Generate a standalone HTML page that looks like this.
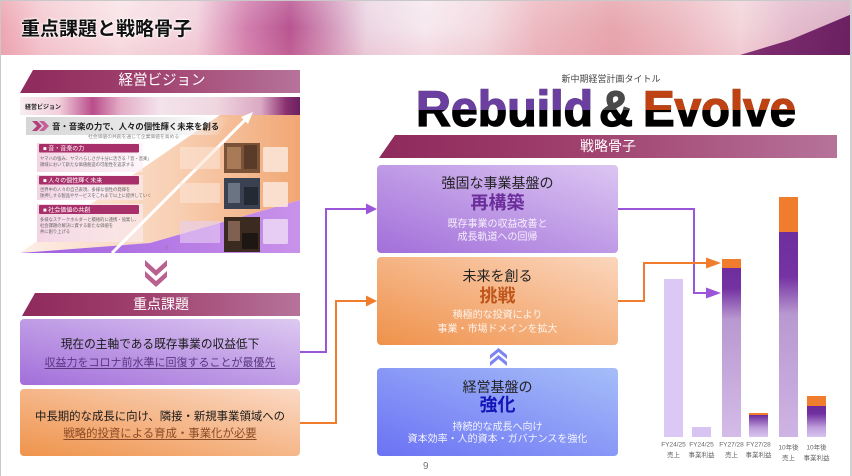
<!DOCTYPE html>
<html><head><meta charset="utf-8">
<style>
*{margin:0;padding:0;box-sizing:border-box;}
html,body{width:852px;height:476px;overflow:hidden;background:#fff;}
body{position:relative;font-family:"Liberation Sans","Noto Sans CJK JP",sans-serif;}
.abs{position:absolute;}
.header{left:0;top:0;width:852px;height:55px;overflow:hidden;
background:
 linear-gradient(180deg,rgba(255,255,255,0.15) 0%,rgba(255,255,255,0) 50%,rgba(230,140,160,0.18) 100%),
 linear-gradient(90deg,#eda6b1 0%,#f5ccd3 5%,#f9e4e8 14%,#f3d2dd 23%,#d27fae 29%,#b85592 34%,#cf8db5 38%,#ecd6e3 43%,#f6e9ef 50%,#f3dae1 57%,#edbac1 63%,#e7a6ae 72%,#edbcc3 80%,#f3d6dc 87%,#e4bccd 93%,#d9b0c4 100%);}
.hdark{left:700px;top:0;width:152px;height:55px;
 clip-path:polygon(40px 55px,90px 40px,152px 14px,152px 55px);
 background:linear-gradient(100deg,#9a4a88 0%,#7a2a6c 50%,#6a2062 100%);}
.title{left:21px;top:20px;font-size:19px;line-height:19px;font-weight:bold;color:#111;white-space:nowrap;
 text-shadow:0 0 3px #fff,0 0 2px #fff,0 0 1px #fff;}
.banner{color:#fff;text-align:center;background:linear-gradient(90deg,#8e2a5c 0%,#a0416e 45%,#b6739a 100%);}
.box{border-radius:4px;}
.t{position:absolute;left:0;width:100%;text-align:center;white-space:nowrap;}
.frame-t{left:0;top:0;width:852px;height:1px;background:#c9c9c9;}
.frame-l{left:0;top:0;width:1px;height:476px;background:#c9c9c9;}
.frame-r{left:850px;top:0;width:2px;height:476px;background:#d0d0d0;}
</style></head><body>

<div class="abs header"></div>
<div class="abs hdark"></div>
<div class="abs title">重点課題と戦略骨子</div>

<!-- 経営ビジョン banner -->
<div class="abs banner" style="left:20px;top:70px;width:280px;height:23px;clip-path:polygon(13px 0,100% 0,100% 100%,0 100%);font-size:14.5px;line-height:23px;padding-left:4px;">経営ビジョン</div>

<!-- Vision image -->
<svg class="abs" style="left:20px;top:97px;" width="280" height="156" viewBox="0 0 280 156" font-family="Liberation Sans, Noto Sans CJK JP, sans-serif">
 <defs>
  <linearGradient id="hair" x1="0" y1="0" x2="1" y2="0">
   <stop offset="0" stop-color="#f8eef1"/><stop offset="0.14" stop-color="#f2cfdb"/>
   <stop offset="0.26" stop-color="#b94d8b"/><stop offset="0.36" stop-color="#e4adc6"/>
   <stop offset="0.5" stop-color="#f3e3eb"/><stop offset="0.7" stop-color="#efd6df"/>
   <stop offset="0.86" stop-color="#dba9c3"/><stop offset="0.95" stop-color="#8a3070"/>
   <stop offset="1" stop-color="#6a2060"/></linearGradient>
  <linearGradient id="org" x1="0" y1="0" x2="1" y2="0">
   <stop offset="0" stop-color="#fdeee6"/><stop offset="0.55" stop-color="#f8d0b4"/><stop offset="1" stop-color="#f1a774"/></linearGradient>
  <linearGradient id="pur" x1="0" y1="0" x2="1" y2="0">
   <stop offset="0" stop-color="#9f5ee0"/><stop offset="1" stop-color="#c992ea"/></linearGradient>
  <linearGradient id="grey" x1="0" y1="0" x2="1" y2="0">
   <stop offset="0" stop-color="#d6d6d6"/><stop offset="0.7" stop-color="#eeeeee"/><stop offset="1" stop-color="#f8f8f8" stop-opacity="0"/></linearGradient>
  <linearGradient id="bx" x1="0" y1="0" x2="1" y2="0">
   <stop offset="0" stop-color="#f4d4e4"/><stop offset="1" stop-color="#fbeef4" stop-opacity="0.6"/></linearGradient>
 </defs>
 <rect x="0" y="0" width="280" height="18" fill="url(#hair)"/>
 <text x="5" y="12" font-size="6" font-weight="bold" fill="#222">経営ビジョン</text>
 <polygon points="200,18 280,18 280,103 130,146 0,156" fill="url(#org)"/>
 <polygon points="0,156 130,146 280,103 280,156" fill="url(#pur)"/>
 <polygon points="6,20 210,20 198,38 6,38" fill="url(#grey)"/>
 <polygon points="12,24 17,24 22,29 17,34 12,34 17,29" fill="#b23e7c"/>
 <polygon points="19,24 24,24 29,29 24,34 19,34 24,29" fill="#c7609a"/>
 <text x="32" y="32.5" font-size="8.4" font-weight="bold" fill="#222">音・音楽の力で、人々の個性輝く未来を創る</text>
 <text x="68" y="41" font-size="4.8" fill="#888">社会価値の共創を通じて企業価値を高める</text>
 <!-- boxes -->
 <rect x="17" y="46" width="106" height="29" fill="url(#bx)"/>
 <rect x="19" y="47" width="100" height="8.5" rx="1" fill="#a8306a"/>
 <text x="23" y="53.5" font-size="6" fill="#fff">■ 音・音楽の力</text>
 <text x="20" y="63" font-size="4.3" fill="#666">ヤマハの強み、ヤマハらしさが十分に活きる「音・音楽」</text>
 <text x="20" y="69" font-size="4.3" fill="#666">領域において新たな価値創造の可能性を追求する</text>
 <rect x="17" y="78" width="106" height="25" fill="url(#bx)"/>
 <rect x="19" y="79" width="100" height="8.5" rx="1" fill="#a8306a"/>
 <text x="23" y="85.5" font-size="6" fill="#fff">■ 人々の個性輝く未来</text>
 <text x="20" y="94" font-size="4.3" fill="#666">世界中の人々の自己表現、多様な個性の発揮を</text>
 <text x="20" y="100" font-size="4.3" fill="#666">後押しする製品やサービスをこれまで以上に提供していく</text>
 <rect x="17" y="107" width="106" height="38" fill="url(#bx)"/>
 <rect x="19" y="108" width="100" height="9" rx="1" fill="#a8306a"/>
 <text x="23" y="115" font-size="6" fill="#fff">■ 社会価値の共創</text>
 <text x="20" y="124" font-size="4.3" fill="#666">多様なステークホルダーと積極的に連携・協業し、</text>
 <text x="20" y="130" font-size="4.3" fill="#666">社会課題の解決に資する新たな価値を</text>
 <text x="20" y="136" font-size="4.3" fill="#666">共に創り上げる</text>
 <!-- arrow -->
 <line x1="92" y1="156" x2="226" y2="22" stroke="#fff" stroke-width="3"/>
 <polygon points="233,15 221,20 228,27" fill="#fff"/>
 <!-- side text boxes -->
 <rect x="160" y="50" width="40" height="22" fill="#fbe4d6" opacity="0.6"/>
 <rect x="160" y="86" width="40" height="20" fill="#fbe4d6" opacity="0.6"/>
 <rect x="160" y="124" width="40" height="22" fill="#e8d0f4" opacity="0.6"/>
 <rect x="243" y="50" width="25" height="25" rx="1.5" fill="#fbe8dc" opacity="0.85"/>
 <rect x="243" y="85" width="25" height="25" rx="1.5" fill="#fbe8dc" opacity="0.85"/>
 <rect x="243" y="122" width="25" height="25" rx="1.5" fill="#ecd8f6" opacity="0.85"/>
 <!-- photos -->
 <rect x="204" y="46" width="36" height="30" fill="#7a5238"/>
 <rect x="207" y="50" width="14" height="22" fill="#a97a56"/><rect x="224" y="48" width="13" height="24" fill="#5a3a28"/>
 <rect x="204" y="81" width="36" height="31" fill="#3a4252"/>
 <rect x="208" y="86" width="12" height="20" fill="#6a7482"/><rect x="224" y="90" width="14" height="18" fill="#242a34"/>
 <rect x="204" y="120" width="36" height="35" fill="#3a2a20"/>
 <rect x="208" y="124" width="12" height="20" fill="#806050"/><rect x="222" y="136" width="16" height="16" fill="#1e1612"/>
 <text x="145" y="153" font-size="5" fill="#777">7</text>
</svg>

<!-- 重点課題 banner -->
<div class="abs banner" style="left:22px;top:293px;width:278px;height:23px;clip-path:polygon(13px 0,100% 0,100% 100%,0 100%);font-size:14px;line-height:23px;">重点課題</div>

<!-- left purple box -->
<div class="abs box" style="left:20px;top:319px;width:280px;height:66px;background:linear-gradient(to top right,#a26fda,#ddc9f1);">
 <div class="t" style="top:18px;font-size:11.7px;line-height:16px;color:#1a1a1a;">現在の主軸である既存事業の収益低下</div>
 <div class="t" style="top:36px;font-size:11px;line-height:16px;color:#5a3580;text-decoration:underline;text-underline-offset:2px;">収益力をコロナ前水準に回復することが最優先</div>
</div>
<!-- left orange box -->
<div class="abs box" style="left:20px;top:389px;width:280px;height:67px;background:linear-gradient(to top right,#ef934b,#fbdac6);">
 <div class="t" style="top:20px;font-size:11.4px;line-height:16px;color:#1a1a1a;">中長期的な成長に向け、隣接・新規事業領域への</div>
 <div class="t" style="top:37px;font-size:11.4px;line-height:16px;color:#8a4a26;text-decoration:underline;text-underline-offset:2px;">戦略的投資による育成・事業化が必要</div>
</div>

<!-- right top text -->
<div class="abs" style="left:551px;top:73px;width:120px;text-align:center;font-size:9px;line-height:12px;color:#444;white-space:nowrap;">新中期経営計画タイトル</div>

<!-- 戦略骨子 banner -->
<div class="abs banner" style="left:379px;top:135px;width:458px;height:23px;clip-path:polygon(16px 0,100% 0,100% 100%,0 100%);font-size:14px;line-height:23px;">戦略骨子</div>

<!-- strategy box 1 -->
<div class="abs box" style="left:377px;top:165px;width:241px;height:88px;background:linear-gradient(to top right,#a26fda,#dcc6f2);">
 <div class="t" style="top:10px;font-size:14px;line-height:16px;color:#222;">強固な事業基盤の</div>
 <div class="t" style="top:28px;font-size:18px;line-height:20px;font-weight:bold;color:#6a2d9a;">再構築</div>
 <div class="t" style="top:53px;font-size:10px;line-height:14px;color:#f6f0fb;">既存事業の収益改善と</div>
 <div class="t" style="top:66px;font-size:10px;line-height:14px;color:#f6f0fb;">成長軌道への回帰</div>
</div>
<!-- strategy box 2 -->
<div class="abs box" style="left:377px;top:257px;width:241px;height:88px;background:linear-gradient(to top right,#ef914a,#fbd6bd);">
 <div class="t" style="top:11px;font-size:14px;line-height:16px;color:#222;">未来を創る</div>
 <div class="t" style="top:29px;font-size:18px;line-height:20px;font-weight:bold;color:#c0561c;">挑戦</div>
 <div class="t" style="top:52px;font-size:10px;line-height:14px;color:#fdf3ec;">積極的な投資により</div>
 <div class="t" style="top:66px;font-size:10px;line-height:14px;color:#fdf3ec;">事業・市場ドメインを拡大</div>
</div>
<!-- strategy box 3 -->
<div class="abs box" style="left:377px;top:368px;width:241px;height:88px;background:linear-gradient(to top right,#6b72f4,#a6bef8);">
 <div class="t" style="top:11px;font-size:14px;line-height:16px;color:#222;">経営基盤の</div>
 <div class="t" style="top:27px;font-size:18px;line-height:20px;font-weight:bold;color:#1414b8;">強化</div>
 <div class="t" style="top:53px;font-size:10px;line-height:14px;color:#f2f4ff;">持続的な成長へ向け</div>
 <div class="t" style="top:65px;font-size:10px;line-height:14px;color:#f2f4ff;">資本効率・人的資本・ガバナンスを強化</div>
</div>

<div class="abs" style="left:423px;top:461px;font-size:10px;line-height:12px;color:#777;">9</div>

<!-- overlay svg: logo, connectors, chart -->
<svg class="abs" style="left:0;top:0;" width="852" height="476" viewBox="0 0 852 476" font-family="Liberation Sans, Noto Sans CJK JP, sans-serif">
 <defs>
  <clipPath id="topHalf"><rect x="0" y="80" width="852" height="30"/></clipPath>
  <linearGradient id="b3" gradientUnits="userSpaceOnUse" x1="0" y1="268" x2="0" y2="437">
   <stop offset="0" stop-color="#6e2e9e"/><stop offset="0.12" stop-color="#7431a2"/><stop offset="0.3" stop-color="#b898d0"/><stop offset="1" stop-color="#d4bce8"/></linearGradient>
  <linearGradient id="b5" gradientUnits="userSpaceOnUse" x1="0" y1="232" x2="0" y2="437">
   <stop offset="0" stop-color="#6e2e9e"/><stop offset="0.22" stop-color="#7533a3"/><stop offset="0.4" stop-color="#b898d0"/><stop offset="1" stop-color="#ceb4e4"/></linearGradient>
  <linearGradient id="b4" gradientUnits="userSpaceOnUse" x1="0" y1="415" x2="0" y2="437">
   <stop offset="0" stop-color="#6a2a9a"/><stop offset="0.6" stop-color="#c0a0dc"/><stop offset="1" stop-color="#d8c4f0"/></linearGradient>
  <linearGradient id="b6" gradientUnits="userSpaceOnUse" x1="0" y1="406" x2="0" y2="437">
   <stop offset="0" stop-color="#6a2a9a"/><stop offset="0.25" stop-color="#7030a0"/><stop offset="0.7" stop-color="#c0a0dc"/><stop offset="1" stop-color="#d8c4f0"/></linearGradient>
 </defs>

 <!-- logo -->
 <g font-size="50" font-weight="bold">
  <text x="416" y="126" textLength="177" lengthAdjust="spacingAndGlyphs" fill="#000" stroke="#000" stroke-width="1.3">Rebuild</text>
  <text x="599" y="126" textLength="34" lengthAdjust="spacingAndGlyphs" fill="#000" stroke="#000" stroke-width="1.3">&amp;</text>
  <text x="643" y="126" textLength="153" lengthAdjust="spacingAndGlyphs" fill="#000" stroke="#000" stroke-width="1.3">Evolve</text>
  <g clip-path="url(#topHalf)">
   <text x="416" y="126" textLength="177" lengthAdjust="spacingAndGlyphs" fill="#6b3fa0" stroke="#6b3fa0" stroke-width="1.3">Rebuild</text>
   <text x="599" y="126" textLength="34" lengthAdjust="spacingAndGlyphs" fill="#4a4a4a" stroke="#4a4a4a" stroke-width="1.3">&amp;</text>
   <text x="643" y="126" textLength="153" lengthAdjust="spacingAndGlyphs" fill="#bf4212" stroke="#bf4212" stroke-width="1.3">Evolve</text>
  </g>
 </g>

 <!-- chevrons down -->
 <polygon points="145,260 156,270 167,260 167,266 156,276 145,266" fill="#b9618f"/>
 <polygon points="145,271 156,281 167,271 167,277 156,287 145,277" fill="#b9618f"/>
 <!-- chevrons up -->
 <polygon points="490,355 498.5,348 507,355 507,359 498.5,352 490,359" fill="#7c84f4"/>
 <polygon points="490,362 498.5,355 507,362 507,366 498.5,359 490,366" fill="#7c84f4"/>

 <!-- connectors left -->
 <polyline points="300,352 326,352 326,209 368,209" fill="none" stroke="#9a55d8" stroke-width="2"/>
 <polygon points="366,203.5 377,209 366,214.5" fill="#9a55d8"/>
 <polyline points="300,423 336,423 336,301 368,301" fill="none" stroke="#f07d2e" stroke-width="2"/>
 <polygon points="366,295.5 377,301 366,306.5" fill="#f07d2e"/>
 <!-- connectors right -->
 <polyline points="618,209 694,209 694,293 710,293" fill="none" stroke="#9a55d8" stroke-width="2"/>
 <polygon points="706,287.5 721,293 706,298.5" fill="#9a55d8"/>
 <polyline points="618,301 644,301 644,263 710,263" fill="none" stroke="#f07d2e" stroke-width="2"/>
 <polygon points="706,257.5 721,263 706,268.5" fill="#f07d2e"/>

 <!-- bars -->
 <rect x="664" y="279" width="19" height="158" fill="#dcc8f4"/>
 <rect x="692" y="427" width="19" height="10" fill="#d8c4f2"/>
 <rect x="722" y="259" width="19" height="9" fill="#f07d2e"/>
 <rect x="722" y="268" width="19" height="169" fill="url(#b3)"/>
 <rect x="749" y="413" width="19" height="2" fill="#f07d2e"/>
 <rect x="749" y="415" width="19" height="22" fill="url(#b4)"/>
 <rect x="779" y="197" width="19" height="35" fill="#f07d2e"/>
 <rect x="779" y="232" width="19" height="205" fill="url(#b5)"/>
 <rect x="807" y="396" width="19" height="10" fill="#f07d2e"/>
 <rect x="807" y="406" width="19" height="31" fill="url(#b6)"/>

 <!-- labels -->
 <g font-size="6.5" fill="#666" text-anchor="middle">
  <text x="673.5" y="446.5">FY24/25</text><text x="673.5" y="457">売上</text>
  <text x="701.5" y="446.5">FY24/25</text><text x="701.5" y="457">事業利益</text>
  <text x="731.5" y="446.5">FY27/28</text><text x="731.5" y="457">売上</text>
  <text x="758.5" y="446.5">FY27/28</text><text x="758.5" y="457">事業利益</text>
  <text x="788.5" y="449.5">10年後</text><text x="788.5" y="460">売上</text>
  <text x="816.5" y="449.5">10年後</text><text x="816.5" y="460">事業利益</text>
 </g>
</svg>

<div class="abs frame-t"></div>
<div class="abs frame-l"></div>
<div class="abs frame-r"></div>
</body></html>
